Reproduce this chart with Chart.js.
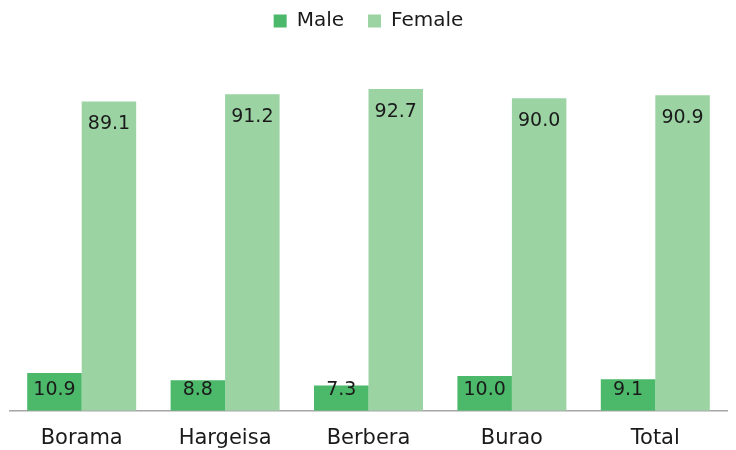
<!DOCTYPE html>
<html>
<head>
<meta charset="utf-8">
<script src="https://cdn.jsdelivr.net/npm/chart.js@4/dist/chart.umd.min.js"></script>
<style>
  html, body { margin: 0; padding: 0; background: #fff; }
  #wrap { width: 736px; height: 450px; }
</style>
</head>
<body>
<div id="wrap"><canvas id="myChart" width="736" height="450"></canvas></div>
<script>
const regions = ['Borama', 'Hargeisa', 'Berbera', 'Burao', 'Total'];
const maleValues = [10.9, 8.8, 7.3, 10.0, 9.1];
const femaleValues = [89.1, 91.2, 92.7, 90.0, 90.9];

const fontFamily = '"DejaVu Sans", "Noto Sans", sans-serif';

// draws the value inside the top of each bar (short bars: kept just above the axis)
const barLabels = {
    id: 'barLabels',
    afterDatasetsDraw(chart) {
        const ctx = chart.ctx;
        const base = chart.scales.y.getPixelForValue(0);
        ctx.save();
        ctx.font = '19px ' + fontFamily;
        ctx.fillStyle = '#1a1a1a';
        ctx.textAlign = 'center';
        ctx.textBaseline = 'middle';
        chart.data.datasets.forEach((ds, i) => {
            chart.getDatasetMeta(i).data.forEach((bar, j) => {
                const y = Math.min(bar.y + 23, base - 21);
                ctx.fillText(ds.data[j].toFixed(1), bar.x, y);
            });
        });
        ctx.restore();
    }
};

const ctx = document.getElementById('myChart').getContext('2d');
const myChart = new Chart(ctx, {
    type: 'bar',
    data: {
        labels: regions,
        datasets: [{
            label: 'Male',
            data: maleValues,
            backgroundColor: '#4cb86a'
        }, {
            label: 'Female',
            data: femaleValues,
            backgroundColor: '#9bd3a3'
        }]
    },
    options: {
        responsive: false,
        animation: false,
        layout: { padding: { left: 10, right: 9, top: -13, bottom: -16 } },
        datasets: {
            bar: { categoryPercentage: 0.76, barPercentage: 1.0 }
        },
        scales: {
            x: {
                grid: { display: false, drawTicks: false },
                border: { color: '#a6a6a6', width: 1.5 },
                ticks: {
                    color: '#1a1a1a',
                    padding: 15,
                    font: { size: 21, family: fontFamily }
                }
            },
            y: {
                display: false,
                min: 0,
                max: 106.5
            }
        },
        plugins: {
            legend: {
                position: 'top',
                labels: {
                    boxWidth: 13,
                    boxHeight: 13,
                    color: '#1a1a1a',
                    padding: 24,
                    font: { size: 20, family: fontFamily }
                }
            },
            tooltip: { enabled: false }
        }
    },
    plugins: [barLabels]
});
</script>
</body>
</html>
